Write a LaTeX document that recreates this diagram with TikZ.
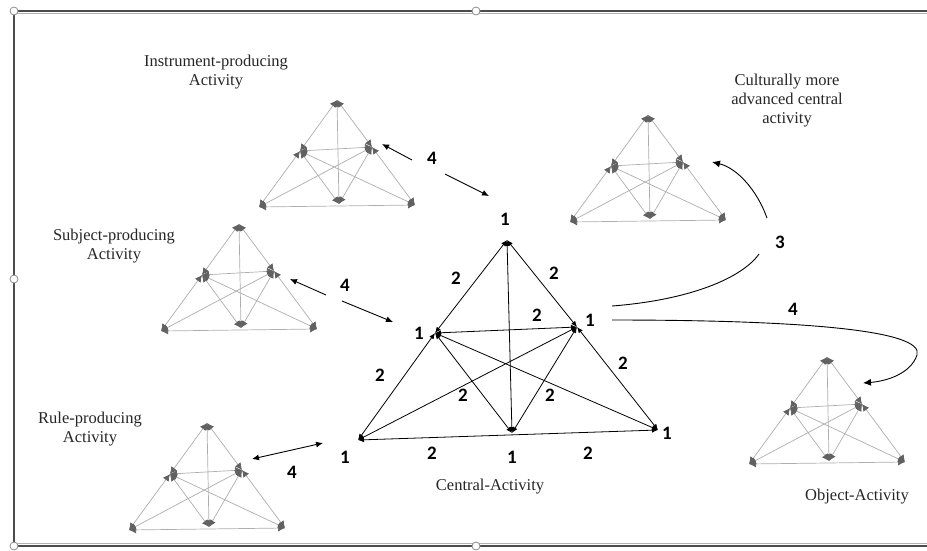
\documentclass[tikz,border=0pt]{standalone}
\usepackage{fontspec}
\setmainfont{Liberation Serif}
\newfontfamily\numfont{Carlito}
\usepackage{tikz}
\usetikzlibrary{arrows.meta}

\begin{document}
\begin{tikzpicture}[x=1pt,y=-1pt,
  numlabel/.style={font=\numfont\bfseries\fontsize{19}{19}\selectfont, inner sep=0pt},
  actlabel/.style={font=\fontsize{16.5}{19}\selectfont, text=black!85, align=center, inner sep=0pt},
  bigedge/.style={{Latex[length=6pt,width=5pt]}-{Latex[length=6pt,width=5pt]}, line width=0.8pt, black},
  smalledge/.style={{Latex[length=7pt,width=7pt]}-{Latex[length=7pt,width=7pt]}, line width=0.7pt, black!32, arrows={[color=black!62]}},
  linkarrow/.style={{Latex[length=7pt,width=6pt]}-{Latex[length=7pt,width=6pt]}, line width=0.9pt, black},
  onearrow/.style={-{Latex[length=7pt,width=6pt]}, line width=0.9pt, black},
  handle/.style={draw=black!45, fill=white, line width=0.8pt}]
\useasboundingbox (0,0) rectangle (927,550);

\draw[line width=1.6pt, black!70] (927,11) -- (14,11) -- (14,546) -- (927,546);
\draw[line width=0.6pt, black!30] (927,13.5) -- (16.5,13.5);
\draw[line width=0.6pt, black!30] (16.5,543.5) -- (927,543.5);
\foreach \hx/\hy in {14/11, 476/11, 14/279, 14/546, 476/546}
  \draw[handle] (\hx,\hy) circle (4);

\foreach \nm/\ax/\ay in {ins/337/100, cul/648/115, sub/239/224, rul/207/423, obj/827/357}{
  \coordinate (\nm-t) at (\ax,\ay);
  \coordinate (\nm-il) at (\ax-37,\ay+51);
  \coordinate (\nm-ir) at (\ax+35,\ay+47);
  \coordinate (\nm-bl) at (\ax-78,\ay+107);
  \coordinate (\nm-bm) at (\ax+2,\ay+104);
  \coordinate (\nm-br) at (\ax+78,\ay+105);
  \foreach \a/\b in {t/il, t/ir, t/bm, il/ir, il/bl, il/bm, il/br, ir/bl, ir/bm, ir/br, bl/br}
    \draw[smalledge] (\nm-\a) -- (\nm-\b);
}

\coordinate (c-t) at (507,240);
\coordinate (c-il) at (435,333);
\coordinate (c-ir) at (577,327);
\coordinate (c-bl) at (358,440);
\coordinate (c-bm) at (512,433);
\coordinate (c-br) at (658,430);
\foreach \a/\b in {t/il, t/ir, t/bm, il/ir, il/bl, il/bm, il/br, ir/bl, ir/bm, ir/br, bl/br}
  \draw[bigedge] (c-\a) -- (c-\b);

\node[numlabel] (one-t) at (505,219) {1};
\node[numlabel] (one-il) at (419,333) {1};
\node[numlabel] (one-ir) at (590,320) {1};
\node[numlabel] (one-bl) at (345,457) {1};
\node[numlabel] (one-bm) at (512,457) {1};
\node[numlabel] (one-br) at (667,433) {1};

\node[numlabel] (two-a) at (456,278) {2};
\node[numlabel] (two-b) at (554,273) {2};
\node[numlabel] (two-c) at (537,315) {2};
\node[numlabel] (two-d) at (380,375) {2};
\node[numlabel] (two-e) at (623,363) {2};
\node[numlabel] (two-f) at (463,395) {2};
\node[numlabel] (two-g) at (550,395) {2};
\node[numlabel] (two-h) at (432,453) {2};
\node[numlabel] (two-i) at (588,453) {2};

\node[actlabel] (ins-lab) at (216,72) {Instrument-producing\\Activity};
\node[actlabel] (cul-lab) at (787,101) {Culturally more\\advanced central\\activity};
\node[actlabel] (sub-lab) at (114,246) {Subject-producing\\Activity};
\node[actlabel] (rul-lab) at (90,429) {Rule-producing\\Activity};
\node[actlabel] (cen-lab) at (490,487) {Central-Activity};
\node[actlabel] (obj-lab) at (857,497) {Object-Activity};

\coordinate (ins-a) at (382,144);
\coordinate (ins-m) at (412,160);
\coordinate (ins-n) at (445,174);
\coordinate (ins-b) at (489,196);
\coordinate (sub-a) at (290,279);
\coordinate (sub-m) at (326,295);
\coordinate (sub-n) at (342,301);
\coordinate (sub-b) at (393,322);
\coordinate (rul-a) at (252,459);
\coordinate (rul-b) at (323,443);
\draw[onearrow] (ins-m) -- (ins-a);
\draw[onearrow] (ins-n) -- (ins-b);
\draw[onearrow] (sub-m) -- (sub-a);
\draw[onearrow] (sub-n) -- (sub-b);
\draw[linkarrow] (rul-a) -- (rul-b);
\node[numlabel] (four-ins) at (432,158) {4};
\node[numlabel] (four-sub) at (345,285) {4};
\node[numlabel] (four-rul) at (292,472) {4};

\node[numlabel] (three) at (780,242) {3};
\coordinate (cul-s) at (612,306);
\coordinate (cul-m) at (759,254);
\coordinate (cul-n) at (767,218);
\coordinate (cul-e) at (712,162);
\draw[line width=0.9pt] (cul-s) .. controls (690,300) and (742,278) .. (cul-m);
\draw[line width=0.9pt, -{Latex[length=8pt,width=7pt]}] (cul-n) .. controls (757,190) and (737,168) .. (cul-e);

\node[numlabel] (four-obj) at (793,309) {4};
\coordinate (obj-s) at (612,320);
\coordinate (obj-e) at (863,383);
\draw[line width=0.9pt, -{Latex[length=8pt,width=7pt]}] (obj-s) .. controls (800,320) and (925,330) .. (917,355) .. controls (911,373) and (888,381) .. (obj-e);
\end{tikzpicture}
\end{document}
